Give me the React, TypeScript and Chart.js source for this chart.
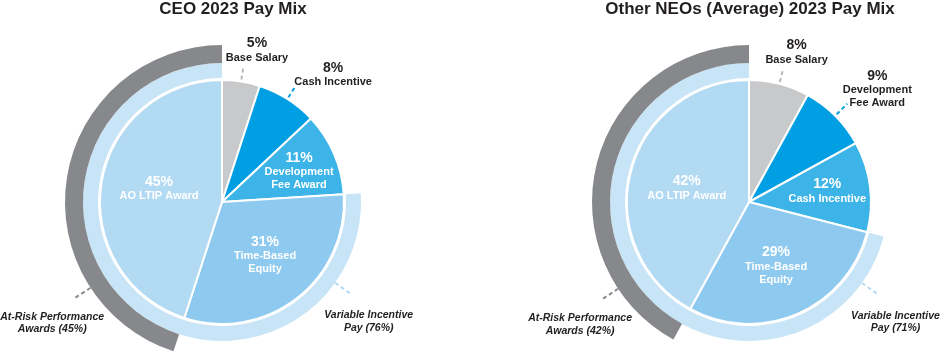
import React, { useEffect, useRef } from "react";
import { Chart, registerables } from "chart.js";

Chart.register(...registerables);

// ---------- data ----------
const CEO_TITLE = "CEO 2023 Pay Mix";
const CEO_CATEGORIES = ["Base Salary", "Cash Incentive", "Development Fee Award", "Time-Based Equity", "AO LTIP Award"];
const CEO_VALUES = [5, 8, 11, 31, 45];
const CEO_VARIABLE_PAY = 76;
const CEO_AT_RISK = 45;

const NEO_TITLE = "Other NEOs (Average) 2023 Pay Mix";
const NEO_CATEGORIES = ["Base Salary", "Development Fee Award", "Cash Incentive", "Time-Based Equity", "AO LTIP Award"];
const NEO_VALUES = [8, 9, 12, 29, 42];
const NEO_VARIABLE_PAY = 71;
const NEO_AT_RISK = 42;

const CATEGORY_LINES: Record<string, string[]> = {
  "Base Salary": ["Base Salary"],
  "Cash Incentive": ["Cash Incentive"],
  "Development Fee Award": ["Development", "Fee Award"],
  "Time-Based Equity": ["Time-Based", "Equity"],
  "AO LTIP Award": ["AO LTIP Award"],
};

// ---------- styles ----------
const FONT = "'Liberation Sans', Arial, Helvetica, sans-serif";
const SLICE_COLORS = ["#c8c9cb", "#009fe3", "#3cb4e8", "#8ecaef", "#b3daf3"];
const LEADER_COLORS = ["#b8b9bb", "#0a9fe0"];
const GRAY_RING = "#87888b";
const LIGHT_RING = "#c8e4f7";
const DARK_TEXT = "#231f20";
const DEG = Math.PI / 180;

type SlicePos = { k: number; da: number; outside?: boolean; leader?: [number, number] };

const CEO_LABEL_POS: SlicePos[] = [
  { k: 1.275, da: 4, outside: true, leader: [2, 14] },
  { k: 1.383, da: 8.8, outside: true, leader: [2, 15] },
  { k: 0.679, da: 1.8 },
  { k: 0.563, da: -1 },
  { k: 0.527, da: 2.7 },
];
const NEO_LABEL_POS: SlicePos[] = [
  { k: 1.283, da: 3.3, outside: true, leader: [2, 14] },
  { k: 1.398, da: 3.8, outside: true, leader: [2, 17] },
  { k: 0.647, da: -0.3 },
  { k: 0.572, da: 0.6 },
  { k: 0.522, da: -2.3 },
];

type Spec = {
  title: string;
  titleX: number;
  categories: string[];
  values: number[];
  variable: number;
  atRisk: number;
  pos: SlicePos[];
  padding: { left: number; right: number; top: number; bottom: number };
  atRiskAt: number;
  variableAt: number;
};

const SPECS: Spec[] = [
  {
    title: CEO_TITLE,
    titleX: 233,
    categories: CEO_CATEGORIES,
    values: CEO_VALUES,
    variable: CEO_VARIABLE_PAY,
    atRisk: CEO_AT_RISK,
    pos: CEO_LABEL_POS,
    padding: { left: 0, right: 26, top: 42, bottom: 0 },
    atRiskAt: 0.24,
    variableAt: 0.143,
  },
  {
    title: NEO_TITLE,
    titleX: 280,
    categories: NEO_CATEGORIES,
    values: NEO_VALUES,
    variable: NEO_VARIABLE_PAY,
    atRisk: NEO_AT_RISK,
    pos: NEO_LABEL_POS,
    padding: { left: 88, right: 0, top: 42, bottom: 0 },
    atRiskAt: 0.183,
    variableAt: 0.083,
  },
];

function polar(cx: number, cy: number, ang: number, r: number): [number, number] {
  return [cx + r * Math.cos(ang), cy + r * Math.sin(ang)];
}

function drawBlock(
  ctx: CanvasRenderingContext2D,
  x: number,
  y: number,
  lines: string[],
  fonts: string[],
  offsets: number[],
  color: string
) {
  const mid = (offsets[0] + offsets[lines.length - 1]) / 2;
  ctx.fillStyle = color;
  ctx.textAlign = "center";
  ctx.textBaseline = "middle";
  lines.forEach((t, i) => {
    ctx.font = fonts[i];
    ctx.fillText(t, x, y - mid + offsets[i]);
  });
}

function leader(ctx: CanvasRenderingContext2D, cx: number, cy: number, ang: number, r1: number, r2: number, color: string) {
  const [x1, y1] = polar(cx, cy, ang, r1);
  const [x2, y2] = polar(cx, cy, ang, r2);
  ctx.save();
  ctx.strokeStyle = color;
  ctx.lineWidth = 2;
  ctx.setLineDash([4, 3]);
  ctx.beginPath();
  ctx.moveTo(x1, y1);
  ctx.lineTo(x2, y2);
  ctx.stroke();
  ctx.restore();
}

function makeLabelPlugin(spec: Spec) {
  return {
    id: "payMixLabels",
    afterDraw(chart: any) {
      const ctx: CanvasRenderingContext2D = chart.ctx;
      ctx.save();
      // title
      ctx.fillStyle = DARK_TEXT;
      ctx.textAlign = "center";
      ctx.textBaseline = "middle";
      ctx.font = `bold 17px ${FONT}`;
      ctx.fillText(spec.title, spec.titleX, 9);

      const pieArcs = chart.getDatasetMeta(3).data;
      pieArcs.forEach((arc: any, i: number) => {
        const p = spec.pos[i];
        const cx = arc.x, cy = arc.y, R = arc.outerRadius;
        const mid = (arc.startAngle + arc.endAngle) / 2;
        const [tx, ty] = polar(cx, cy, mid + p.da * DEG, p.k * R);
        const lines = [`${spec.values[i]}%`, ...(CATEGORY_LINES[spec.categories[i]] || [spec.categories[i]])];
        const fonts = lines.map((_, j) => (j === 0 ? `bold 14px ${FONT}` : `bold 11px ${FONT}`));
        drawBlock(ctx, tx, ty, lines, fonts, [0, 14.5, 27.5], p.outside ? DARK_TEXT : "#ffffff");
        if (p.leader) {
          leader(ctx, cx, cy, mid, R + p.leader[0], R + p.leader[1], LEADER_COLORS[i] || "#999");
        }
      });

      const pieR = pieArcs[0].outerRadius;
      const ringFont = `italic bold 10.5px ${FONT}`;
      // at-risk ring
      const g = chart.getDatasetMeta(0).data[1];
      const gAng = g.startAngle + (g.endAngle - g.startAngle) * spec.atRiskAt;
      leader(ctx, g.x, g.y, gAng, g.outerRadius, g.outerRadius + 21, "#8a8b8e");
      {
        const [tx, ty] = polar(g.x, g.y, gAng - 2.4 * DEG, 1.71 * pieR);
        drawBlock(ctx, tx, ty, ["At-Risk Performance", `Awards (${spec.atRisk}%)`], [ringFont, ringFont], [0, 12.5], DARK_TEXT);
      }
      // variable ring
      const v = chart.getDatasetMeta(1).data[1];
      const vAng = v.startAngle + (v.endAngle - v.startAngle) * spec.variableAt;
      leader(ctx, v.x, v.y, vAng, v.outerRadius, v.outerRadius + 21, "#b4daf3");
      {
        const [tx, ty] = polar(v.x, v.y, vAng + 3.7 * DEG, 1.552 * pieR);
        drawBlock(ctx, tx, ty, ["Variable Incentive", `Pay (${spec.variable}%)`], [ringFont, ringFont], [0, 12.5], DARK_TEXT);
      }
      ctx.restore();
    },
  };
}

function PayMixChart({ spec }: { spec: Spec }) {
  const ref = useRef<HTMLCanvasElement>(null);
  useEffect(() => {
    if (!ref.current) return;
    const chart = new Chart(ref.current, {
      type: "doughnut",
      data: {
        labels: spec.categories,
        datasets: [
          {
            data: [100 - spec.atRisk, spec.atRisk],
            backgroundColor: ["rgba(0,0,0,0)", GRAY_RING],
            borderWidth: 0,
            weight: 18,
          } as any,
          {
            data: [100 - spec.variable, spec.variable],
            backgroundColor: ["rgba(0,0,0,0)", LIGHT_RING],
            borderWidth: 0,
            weight: 15,
          } as any,
          {
            data: [100],
            backgroundColor: ["rgba(0,0,0,0)"],
            borderWidth: 0,
            weight: 2,
          } as any,
          {
            data: spec.values,
            backgroundColor: SLICE_COLORS,
            borderColor: "#ffffff",
            borderWidth: 2,
            weight: 122,
          } as any,
        ],
      },
      options: {
        responsive: false,
        animation: false,
        events: [],
        radius: 157,
        cutout: 0,
        layout: { padding: spec.padding },
        plugins: {
          legend: { display: false },
          tooltip: { enabled: false },
          title: { display: false },
        },
      } as any,
      plugins: [makeLabelPlugin(spec)],
    });
    return () => chart.destroy();
  }, [spec]);
  return <canvas ref={ref} width={470} height={362} style={{ display: "block" }} />;
}

export default function App() {
  return (
    <div
      style={{
        position: "absolute",
        left: 0,
        top: 0,
        width: 940,
        height: 362,
        display: "flex",
        background: "#ffffff",
      }}
    >
      {SPECS.map((s, i) => (
        <PayMixChart key={i} spec={s} />
      ))}
    </div>
  );
}
